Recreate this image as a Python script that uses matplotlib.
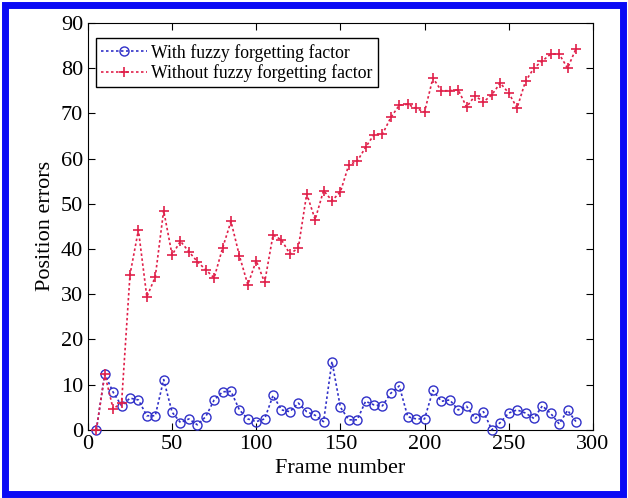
import numpy as np
import matplotlib
matplotlib.use("Agg")
from matplotlib import pyplot as plt
from matplotlib.patches import Rectangle

plt.rcParams['font.family'] = ['Liberation Serif', 'DejaVu Serif']

# frame numbers (every 5 frames)
frames = list(range(5, 295, 5))

with_fuzzy = [0, 12.3, 8.3, 5.3, 7.0, 6.6, 3.1, 3.1, 11.1, 3.9,
              1.6, 2.4, 1.1, 2.9, 6.6, 8.4, 8.5, 4.4, 2.4, 1.8,
              2.4, 7.6, 4.4, 4.0, 5.9, 4.0, 3.2, 1.8, 15.1, 5.0,
              2.2, 2.2, 6.3, 5.5, 5.3, 8.1, 9.7, 2.9, 2.4, 2.4,
              8.7, 6.3, 6.6, 4.4, 5.2, 2.5, 4.0, 0, 1.6, 3.7,
              4.4, 3.7, 2.5, 5.3, 3.6, 1.3, 4.3, 1.8]

without_fuzzy = [0, 12.3, 4.6, 6.0, 34.3, 44.2, 29.4, 33.8, 48.5, 38.7,
                 41.7, 39.4, 37.2, 35.4, 33.6, 40.2, 46.1, 38.5, 32.1, 37.4,
                 32.6, 43.1, 42.0, 38.9, 40.2, 52.2, 46.5, 52.9, 50.7, 52.6,
                 58.6, 59.4, 62.5, 65.3, 65.4, 69.1, 71.8, 72.0, 71.1, 70.3,
                 77.8, 75.0, 75.0, 75.2, 71.4, 73.9, 72.5, 74.1, 76.7, 74.5,
                 71.2, 77.1, 80.0, 81.6, 83.1, 83.1, 80.0, 84.3]

labels = ['With fuzzy forgetting factor', 'Without fuzzy forgetting factor']
xticks = [0, 50, 100, 150, 200, 250, 300]
yticks = list(range(0, 100, 10))

fig = plt.figure(figsize=(6.28, 4.98), dpi=100)
ax = fig.add_axes([0.140, 0.137, 0.804, 0.817])

ax.plot(frames, with_fuzzy, linestyle=(0, (1.5, 1.5)), color='#3030c8', lw=1.2,
        marker='o', markersize=6.5, markerfacecolor='none', markeredgewidth=1.0,
        label=labels[0], clip_on=False, zorder=3)
ax.plot(frames, without_fuzzy, linestyle=(0, (1.5, 1.5)), color='#e0204a', lw=1.2,
        marker='+', markersize=7.5, markeredgewidth=1.2, label=labels[1],
        clip_on=False, zorder=3)

ax.set_xlim(0, 300)
ax.set_ylim(0, 90)
ax.set_xticks(xticks)
ax.set_yticks(yticks)
ax.tick_params(direction='in', top=True, right=True, labelsize=16, length=5)
ax.set_xlabel('Frame number', fontsize=16)
ax.set_ylabel('Position errors', fontsize=16)

leg = ax.legend(loc='upper left', fontsize=12.8, fancybox=False, framealpha=1,
                edgecolor='black', handlelength=2.6, borderpad=0.3,
                labelspacing=0.15, handletextpad=0.2, borderaxespad=0.3,
                bbox_to_anchor=(0.005, 0.975))
leg.get_frame().set_linewidth(1.0)

# blue frame around the picture
fig.patches.append(Rectangle((0.008, 0.009), 0.984, 0.980, transform=fig.transFigure,
                             fill=False, edgecolor='#0a0af5', linewidth=5))

fig.savefig('out.png', dpi=100)
